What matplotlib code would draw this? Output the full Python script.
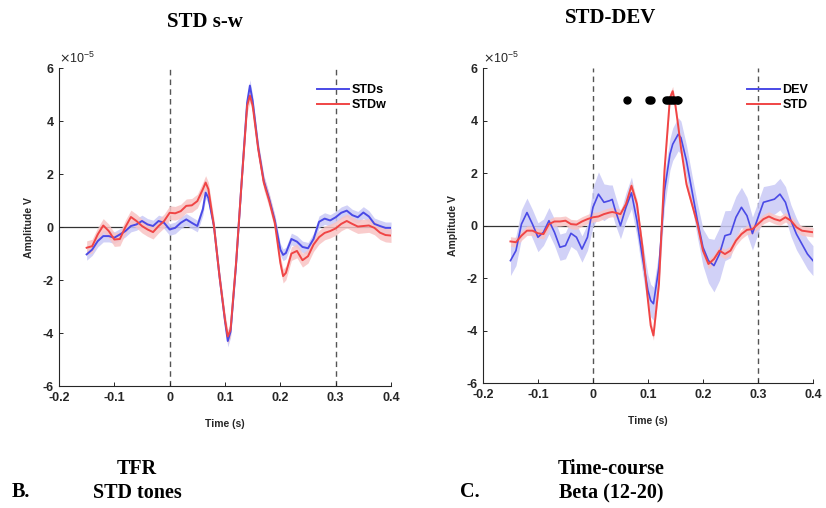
import matplotlib
matplotlib.use("Agg")
import matplotlib.pyplot as plt
from matplotlib.lines import Line2D

# ---------------- data ----------------
t_left = [-0.15, -0.14, -0.13, -0.12, -0.11, -0.10, -0.09, -0.08, -0.07, -0.06,
          -0.05, -0.04, -0.03, -0.02, -0.01, 0.00, 0.01, 0.02, 0.03, 0.04,
          0.05, 0.06, 0.065, 0.07, 0.08, 0.09, 0.10, 0.105, 0.11, 0.12,
          0.13, 0.14, 0.145, 0.15, 0.16, 0.17, 0.18, 0.19, 0.20, 0.205,
          0.21, 0.22, 0.23, 0.24, 0.25, 0.26, 0.27, 0.28, 0.29, 0.30,
          0.31, 0.32, 0.33, 0.34, 0.35, 0.36, 0.37, 0.38, 0.39, 0.40]
stds = [-1.03, -0.85, -0.53, -0.34, -0.34, -0.40, -0.28, -0.15, 0.04, 0.10,
        0.23, 0.10, 0.04, 0.23, 0.16, -0.09, -0.03, 0.16, 0.29, 0.16,
        0.04, 0.67, 1.30, 1.10, 0.04, -1.85, -3.55, -4.30, -3.95, -1.40,
        1.70, 4.70, 5.34, 4.75, 3.00, 1.75, 1.05, 0.25, -0.85, -1.05,
        -0.98, -0.45, -0.55, -0.75, -0.80, -0.45, 0.20, 0.32, 0.25, 0.37,
        0.54, 0.62, 0.45, 0.37, 0.55, 0.40, 0.12, 0.04, -0.03, -0.03]
stdw = [-0.78, -0.72, -0.28, 0.06, -0.15, -0.47, -0.45, 0.00, 0.38, 0.23,
        0.04, -0.09, -0.19, 0.04, 0.23, 0.54, 0.52, 0.60, 0.80, 0.82,
        0.98, 1.43, 1.68, 1.43, 0.04, -1.85, -3.50, -4.13, -3.87, -1.35,
        1.68, 4.58, 4.96, 4.58, 2.94, 1.68, 0.98, 0.16, -1.35, -1.85,
        -1.73, -1.00, -0.90, -1.25, -1.10, -0.66, -0.38, -0.22, -0.15, -0.05,
        0.12, 0.23, 0.12, 0.02, 0.04, 0.06, -0.03, -0.21, -0.30, -0.32]
stds_sem = 0.22
stdw_sem = 0.26

t_right = [-0.15, -0.14, -0.13, -0.12, -0.11, -0.10, -0.09, -0.08, -0.07, -0.06,
           -0.05, -0.04, -0.03, -0.02, -0.01, 0.00, 0.01, 0.02, 0.03, 0.035,
           0.04, 0.05, 0.06, 0.07, 0.08, 0.09, 0.10, 0.105, 0.11, 0.12,
           0.13, 0.14, 0.145, 0.15, 0.155, 0.16, 0.17, 0.18, 0.19, 0.20,
           0.21, 0.22, 0.23, 0.24, 0.25, 0.26, 0.27, 0.28, 0.29, 0.30,
           0.31, 0.32, 0.33, 0.34, 0.35, 0.36, 0.37, 0.38, 0.39, 0.40]
dev = [-1.33, -0.95, 0.06, 0.50, 0.06, -0.44, -0.25, 0.19, -0.25, -0.82,
       -0.76, -0.29, -0.44, -0.89, -0.44, 0.70, 1.20, 0.89, 0.95, 1.00,
       0.63, 0.00, 0.70, 1.25, 0.19, -1.20, -2.47, -2.85, -2.97, -1.58,
       1.33, 2.72, 3.10, 3.29, 3.48, 3.35, 2.47, 1.33, 0.19, -0.82,
       -1.33, -1.52, -1.08, -0.38, -0.32, 0.32, 0.70, 0.38, -0.30, 0.30,
       0.89, 0.95, 1.01, 1.20, 0.89, 0.19, -0.32, -0.70, -1.08, -1.33]
dev_sem = [0.57, 0.57, 0.55, 0.55, 0.55, 0.55, 0.50, 0.50, 0.50, 0.50,
           0.50, 0.50, 0.50, 0.50, 0.50, 0.75, 0.85, 0.70, 0.60, 0.55,
           0.55, 0.50, 0.55, 0.60, 0.60, 0.60, 0.60, 0.62, 0.63, 0.60,
           0.60, 0.60, 0.62, 0.63, 0.63, 0.63, 0.60, 0.60, 0.65, 0.70,
           0.85, 1.00, 1.00, 0.95, 0.90, 0.80, 0.76, 0.70, 0.63, 0.60,
           0.60, 0.58, 0.57, 0.60, 0.60, 0.60, 0.60, 0.58, 0.57, 0.57]
std = [-0.60, -0.63, -0.38, -0.19, -0.19, -0.29, -0.32, 0.06, 0.16, 0.16,
       0.19, 0.06, 0.04, 0.16, 0.25, 0.32, 0.35, 0.44, 0.50, 0.52,
       0.50, 0.44, 0.82, 1.52, 0.82, -0.82, -2.85, -3.80, -4.18, -2.22,
       2.09, 4.87, 5.12, 4.56, 3.80, 2.97, 1.58, 0.82, 0.06, -0.95,
       -1.46, -1.27, -0.95, -1.08, -0.95, -0.57, -0.32, -0.16, -0.13, 0.06,
       0.25, 0.35, 0.25, 0.19, 0.32, 0.19, -0.06, -0.19, -0.22, -0.25]
std_sem = 0.18

sig_times = [0.062, 0.102, 0.106, 0.132, 0.136, 0.140, 0.144, 0.148, 0.152, 0.155]
sig_level = 4.8

xticks = [-0.2, -0.1, 0, 0.1, 0.2, 0.3, 0.4]
xticklabels = ["-0.2", "-0.1", "0", "0.1", "0.2", "0.3", "0.4"]
yticks = [-6, -4, -2, 0, 2, 4, 6]
yticklabels = ["-6", "-4", "-2", "0", "2", "4", "6"]
scale = 1e-5

# ---------------- style ----------------
BLUE = "#4a4ae6"
BLUE_F = "#c9c9f6"
RED = "#f04545"
RED_F = "#f8c4c4"
SANS = "Liberation Sans"
SERIF = "Liberation Serif"

fig = plt.figure(figsize=(8.26, 5.08), dpi=100)
axL = fig.add_axes([0.0714, 0.240, 0.402, 0.626])
axR = fig.add_axes([0.5847, 0.2455, 0.3995, 0.6205])


def band(ax, t, y, sem, line_c, fill_c, lw):
    ys = [v * scale for v in y]
    if isinstance(sem, (list, tuple)):
        lo = [(v - s) * scale for v, s in zip(y, sem)]
        hi = [(v + s) * scale for v, s in zip(y, sem)]
    else:
        lo = [(v - sem) * scale for v in y]
        hi = [(v + sem) * scale for v in y]
    ax.fill_between(t, lo, hi, color=fill_c, lw=0, zorder=2, alpha=0.85)
    ax.plot(t, ys, color=line_c, lw=lw, zorder=3, solid_joinstyle="round")


def style(ax, ylabel_x):
    ax.set_xlim(-0.2, 0.4)
    ax.set_ylim(-6 * scale, 6 * scale)
    ax.set_xticks(xticks)
    ax.set_xticklabels(xticklabels)
    ax.set_yticks([v * scale for v in yticks])
    ax.set_yticklabels(yticklabels)
    for s in ("top", "right"):
        ax.spines[s].set_visible(False)
    for s in ("left", "bottom"):
        ax.spines[s].set_color("#262626")
        ax.spines[s].set_linewidth(0.8)
    ax.tick_params(direction="in", length=3, width=0.7, colors="#262626",
                   labelsize=9, pad=4)
    for lab in ax.get_xticklabels() + ax.get_yticklabels():
        lab.set_fontfamily(SANS)
        lab.set_fontweight("bold")
    ax.axhline(0, color="#333333", lw=0.9, zorder=1)
    for xv in (0, 0.3):
        ax.axvline(xv, color="#555555", lw=1.0, ls=(0, (4, 3)), zorder=1)
    ax.set_xlabel("Time (s)", fontfamily=SANS, fontsize=7.5, fontweight="bold",
                  labelpad=11, color="#262626")
    ax.set_ylabel("Amplitude V", fontfamily=SANS, fontsize=7.5, fontweight="bold",
                  color="#262626")
    ax.yaxis.set_label_coords(ylabel_x, 0.5)
    ax.text(0.0, 1.005, r"$\times\mathregular{10^{-5}}$", transform=ax.transAxes,
            fontfamily=SANS, fontsize=9, ha="left", va="bottom", color="#262626")


# left panel
band(axL, t_left, stds, stds_sem, BLUE, BLUE_F, 1.4)
band(axL, t_left, stdw, stdw_sem, RED, RED_F, 1.4)
style(axL, -0.075)
hL = [Line2D([], [], color=BLUE, lw=1.4), Line2D([], [], color=RED, lw=1.4)]
axL.legend(hL, ["STDs", "STDw"], loc="upper right", frameon=False,
           bbox_to_anchor=(1.02, 0.985), handlelength=2.6, handletextpad=0.2,
           labelspacing=0.25, prop={"family": SANS, "weight": "bold", "size": 9})

# right panel
band(axR, t_right, dev, dev_sem, BLUE, BLUE_F, 1.2)
band(axR, t_right, std, std_sem, RED, RED_F, 1.4)
axR.plot(sig_times, [sig_level * scale] * len(sig_times), "o", color="black",
         ms=5, zorder=4, lw=0)
style(axR, -0.075)
hR = [Line2D([], [], color=BLUE, lw=1.4), Line2D([], [], color=RED, lw=1.4)]
axR.legend(hR, ["DEV", "STD"], loc="upper right", frameon=False,
           bbox_to_anchor=(1.02, 0.985), handlelength=2.6, handletextpad=0.2,
           labelspacing=0.25, prop={"family": SANS, "weight": "bold", "size": 9})

# titles and panel annotations
fig.text(205 / 826, 1 - 22 / 508, "STD s-w", fontfamily=SERIF, fontweight="bold",
         fontsize=15, ha="center", va="center")
fig.text(611 / 826, 1 - 18 / 508, "STD-DEV", fontfamily=SERIF, fontweight="bold",
         fontsize=15, ha="center", va="center")
fig.text(21 / 826, 1 - 492 / 508, "B.", fontfamily=SERIF, fontweight="bold",
         fontsize=14.5, ha="center", va="center")
fig.text(137 / 826, 1 - 469 / 508, "TFR", fontfamily=SERIF, fontweight="bold",
         fontsize=14.5, ha="center", va="center")
fig.text(137 / 826, 1 - 493 / 508, "STD tones", fontfamily=SERIF, fontweight="bold",
         fontsize=14.5, ha="center", va="center")
fig.text(470 / 826, 1 - 492 / 508, "C.", fontfamily=SERIF, fontweight="bold",
         fontsize=14.5, ha="center", va="center")
fig.text(611 / 826, 1 - 469 / 508, "Time-course", fontfamily=SERIF, fontweight="bold",
         fontsize=14.5, ha="center", va="center")
fig.text(611 / 826, 1 - 493 / 508, "Beta (12-20)", fontfamily=SERIF, fontweight="bold",
         fontsize=14.5, ha="center", va="center")

fig.savefig("out.png", dpi=100)
